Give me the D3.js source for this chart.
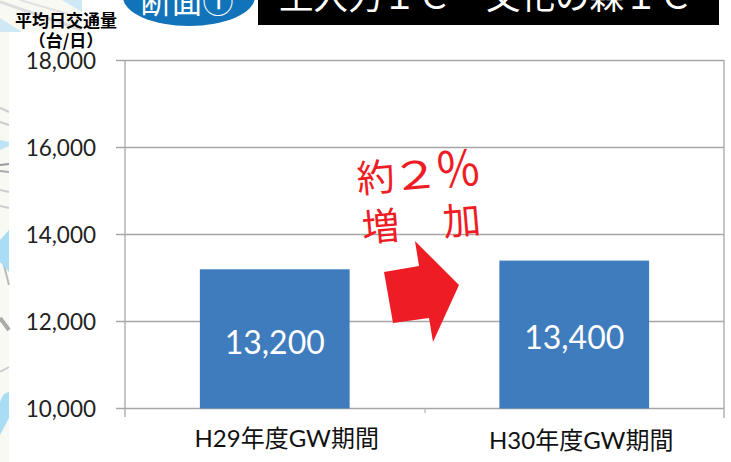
<!DOCTYPE html>
<html><head><meta charset="utf-8">
<script src="https://cdn.jsdelivr.net/npm/d3@7/dist/d3.min.js"></script>
<style>html,body{margin:0;padding:0;background:#fff;overflow:hidden}svg{display:block}</style>
</head><body><svg id="c" width="731" height="462"></svg>
<script>
const categories = ["H29年度GW期間", "H30年度GW期間"];
const values = [13200, 13400];
const valueLabels = ["13,200", "13,400"];
const yTicks = [10000, 12000, 14000, 16000, 18000];
const yTitle = ["平均日交通量", "（台/日）"];
const badgeText = "断面①";
const titleText = "土入力ＩＣ－文化の森ＩＣ";

const jp = "'Noto Sans CJK JP','Noto Sans',sans-serif";
const latin = "Lato,'Noto Sans CJK JP',sans-serif";
const svg = d3.select("#c");
const y = d3.scaleLinear().domain([10000, 18000]).range([408.5, 60.5]);
const x = d3.scaleBand().domain(categories).range([125, 724]).paddingInner(0.5).paddingOuter(0.25);
const xEdge = d3.scaleBand().domain(categories).range([125, 724]);

// map remnant at left
const bg = svg.append("g");
bg.append("rect").attr("width", 9).attr("height", 462).attr("fill", "#f9f9f3");
bg.append("rect").attr("width", 82).attr("height", 32).attr("fill", "#f9f9f3");
[["M0 2L82 30","#ddd",3],["M20 0L82 18","#e2e2e2",2],["M0 108L9 112","#ccc",2],["M0 122L9 125","#ccc",2],["M0 165L9 164","#999",2],["M0 171L9 172","#aaa",2],
 ["M0 190L9 192","#ccc",2],["M0 206L9 208","#ccc",2],["M0 250L9 285","#bbb",2],["M0 318L9 330","#aaa",4],["M0 372L9 367","#ccc",2]].forEach(d=>
  bg.append("path").attr("d",d[0]).attr("stroke",d[1]).attr("stroke-width",d[2]).attr("fill","none"));
bg.append("path").attr("d","M0 140L9 142L9 146L0 150Z").attr("fill","#bfe3f6");
bg.append("path").attr("d","M0 402Q3 392 9 392L9 418L0 435Z").attr("fill","#a9dcf5");
bg.append("path").attr("d","M0 240L9 230L9 272L0 262Z").attr("fill","#a9dcf5");
bg.append("path").attr("d","M62 0L82 0L82 12Z").attr("fill","#cfe8f6");
bg.append("path").attr("d","M0 18L22 32L0 32Z").attr("fill","#cfe8f6");

// grid
const grid = "#a6a6a6";
svg.append("g").selectAll("line").data(yTicks).join("line")
  .attr("x1", 116).attr("x2", 724).attr("y1", d => y(d)).attr("y2", d => y(d))
  .attr("stroke", grid).attr("stroke-width", 1.3);
svg.append("line").attr("x1",125).attr("x2",125).attr("y1",60).attr("y2",417).attr("stroke",grid).attr("stroke-width",1.3);
svg.append("line").attr("x1",724).attr("x2",724).attr("y1",60).attr("y2",418).attr("stroke",grid).attr("stroke-width",1.3);
svg.append("line").attr("x1",425).attr("x2",425).attr("y1",408).attr("y2",413).attr("stroke",grid);

// bars
svg.append("g").selectAll("rect").data(values).join("rect")
  .attr("x", (d,i)=>x(categories[i])).attr("width", x.bandwidth())
  .attr("y", d=>y(d)).attr("height", d=>y(10000)-y(d)).attr("fill", "#3f7cbd");

// bar labels
svg.append("g").selectAll("text").data(values).join("text")
  .attr("x",(d,i)=>x(categories[i])+x.bandwidth()/2).attr("y",(d,i)=>[342,337][i]).attr("dy","0.36em")
  .attr("text-anchor","middle").attr("fill","#fff").attr("font-family",latin).attr("font-size",32)
  .text((d,i)=>valueLabels[i]);

// y labels
svg.append("g").selectAll("text").data(yTicks).join("text")
  .attr("x",96).attr("y",d=>y(d)).attr("dy","0.36em").attr("text-anchor","end")
  .attr("fill","#222").attr("font-family",latin).attr("font-size",22.5)
  .text(d3.format(",d"));

// x labels
svg.append("g").selectAll("text").data(categories).join("text")
  .attr("x",(d,i)=>xEdge(d)+xEdge.bandwidth()/2+[12,7][i]).attr("y",(d,i)=>[438,440][i]).attr("dy","0.36em")
  .attr("text-anchor","middle").attr("fill","#111").attr("font-family",latin).attr("font-size",24)
  .text(d=>d);

// y title
svg.append("g").selectAll("text").data(yTitle).join("text")
  .attr("x",66).attr("y",(d,i)=>21+i*20).attr("dy","0.36em").attr("text-anchor","middle")
  .attr("font-family",jp).attr("font-weight",700).attr("font-size",17).attr("fill","#000").text(d=>d);

// header
svg.append("ellipse").attr("cx",189).attr("cy",-3).attr("rx",66).attr("ry",29).attr("fill","#1173b9");
svg.append("text").attr("x",187).attr("y",13).attr("text-anchor","middle").attr("font-family",jp).attr("font-size",31).attr("fill","#fff").text(badgeText);
svg.append("rect").attr("x",258).attr("y",-2).attr("width",461).attr("height",27).attr("fill","#000");
svg.append("text").attr("x",486).attr("y",9).attr("text-anchor","middle").attr("font-family",jp).attr("font-size",34.5).attr("fill","#fff").text(titleText);

// arrow
svg.append("path").attr("d","M384 272L419 266L415 241L459 285L433 342L429 318L393 323Z").attr("fill","#ee1c25");
// note
const note = svg.append("g").attr("font-family",jp).attr("font-size",38).attr("fill","#ee1c25");
note.append("text").attr("transform","translate(358 193) rotate(-5)").text("約");
note.append("text").attr("transform","translate(392 191) rotate(-5) scale(1.3 1)").text("２");
note.append("text").attr("transform","translate(437 189) rotate(-5) scale(1.2 1.3)").text("％");
note.append("text").attr("transform","translate(363 242) rotate(-5)").text("増");
note.append("text").attr("transform","translate(444 236) rotate(-5)").text("加");
</script></body></html>
